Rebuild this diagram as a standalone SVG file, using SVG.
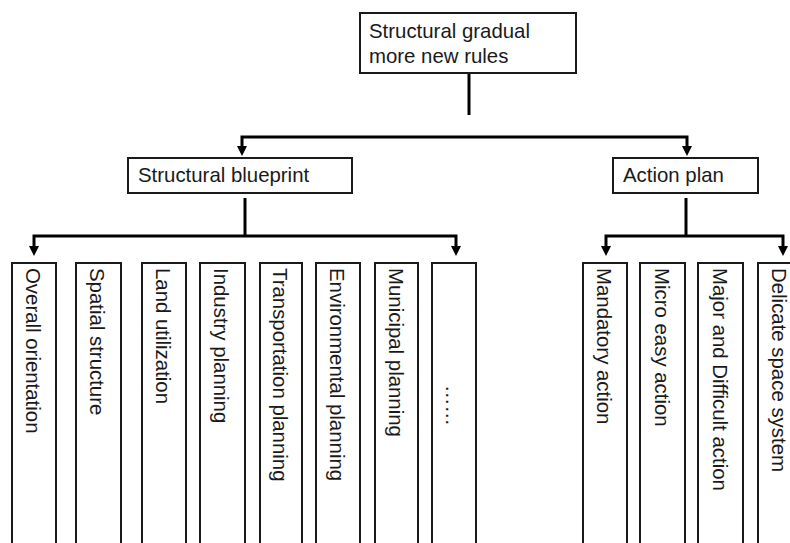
<svg xmlns="http://www.w3.org/2000/svg" width="790" height="543" viewBox="0 0 790 543">
<defs>
<style>
.box{fill:#fff;stroke:#1a1a1a;stroke-width:2}
.t{font-family:"Liberation Sans",Arial,sans-serif;font-size:20.4px;fill:#1a1a1a}
.ln{fill:none;stroke:#000;stroke-width:3}
.ah{fill:#000}
</style>
</defs>
<rect width="790" height="543" fill="#fff"/>
<g id="connectors">
<line class="ln" x1="469" y1="73" x2="469" y2="115"/>
<polyline class="ln" points="242,147 242,137 687,137 687,147"/>
<line class="ln" x1="245" y1="198" x2="245" y2="236"/>
<polyline class="ln" points="34,246 34,236 456,236 456,246"/>
<line class="ln" x1="686" y1="198" x2="686" y2="236"/>
<polyline class="ln" points="606,246 606,236 783,236 783,246"/>
<path class="ah" d="M237,146 L247,146 L242,156 Z M682,146 L692,146 L687,156 Z M29,246 L39,246 L34,256 Z M451,246 L461,246 L456,256 Z M601,246 L611,246 L606,256 Z M778,246 L788,246 L783,256 Z"/>
</g>
<g id="root">
<rect class="box" x="360" y="13" width="216" height="60"/>
<text class="t" x="369" y="38">Structural gradual</text>
<text class="t" x="369" y="63">more new rules</text>
</g>
<g id="blueprint">
<rect class="box" x="128" y="158" width="224" height="35"/>
<text class="t" x="138" y="182">Structural blueprint</text>
</g>
<g id="action">
<rect class="box" x="613" y="158" width="145" height="35"/>
<text class="t" x="623" y="182">Action plan</text>
</g>
<g id="n1"><rect class="box" x="12" y="263" width="44" height="300"/><text class="t" transform="translate(26,268) rotate(90)">Overall orientation</text></g>
<g id="n2"><rect class="box" x="76" y="263" width="45" height="300"/><text class="t" transform="translate(90,268) rotate(90)">Spatial structure</text></g>
<g id="n3"><rect class="box" x="142" y="263" width="44" height="300"/><text class="t" transform="translate(156,268) rotate(90)">Land utilization</text></g>
<g id="n4"><rect class="box" x="200" y="263" width="45" height="300"/><text class="t" transform="translate(214,268) rotate(90)">Industry planning</text></g>
<g id="n5"><rect class="box" x="260" y="263" width="42" height="300"/><text class="t" transform="translate(273,268) rotate(90)">Transportation planning</text></g>
<g id="n6"><rect class="box" x="316" y="263" width="44" height="300"/><text class="t" transform="translate(330,268) rotate(90)">Environmental planning</text></g>
<g id="n7"><rect class="box" x="375" y="263" width="43" height="300"/><text class="t" transform="translate(389,268) rotate(90)">Municipal planning</text></g>
<g id="n8"><rect class="box" x="432" y="263" width="44" height="300"/><text class="t" transform="translate(446,385) rotate(90)">……</text></g>
<g id="m1"><rect class="box" x="583" y="263" width="44" height="300"/><text class="t" transform="translate(597,268) rotate(90)">Mandatory action</text></g>
<g id="m2"><rect class="box" x="640" y="263" width="45" height="300"/><text class="t" transform="translate(655,268) rotate(90)">Micro easy action</text></g>
<g id="m3"><rect class="box" x="698" y="263" width="45" height="300"/><text class="t" transform="translate(713,268) rotate(90)">Major and Difficult action</text></g>
<g id="m4"><rect class="box" x="758" y="263" width="45" height="300"/><text class="t" transform="translate(772,268) rotate(90)">Delicate space system</text></g>
</svg>
